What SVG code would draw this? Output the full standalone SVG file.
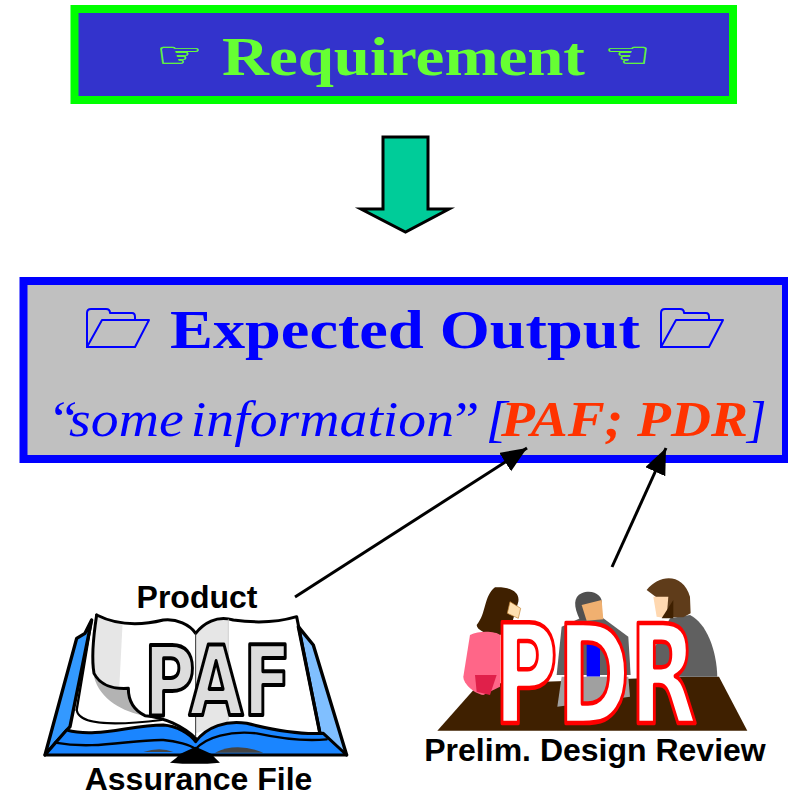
<svg xmlns="http://www.w3.org/2000/svg" width="788" height="793" viewBox="0 0 788 793">
<style>
.sf{font-family:"Liberation Serif","Times New Roman",serif}
.ss{font-family:"Liberation Sans",Arial,sans-serif;font-weight:bold;fill:#000}
.hand{font-family:"DejaVu Sans",sans-serif;fill:#66ff33;stroke:#66ff33;stroke-width:.5}
.big{font-family:"DejaVu Sans",sans-serif;font-weight:bold}
.k{stroke:#000;stroke-linejoin:round;stroke-linecap:round}
</style>
<defs>
<marker id="ah" markerUnits="userSpaceOnUse" markerWidth="28" markerHeight="24" refX="26" refY="11" orient="auto"><path d="M0 0L26 11L0 22Z" fill="#000"/></marker>
<g id="folder" fill="none" stroke="#0000ff" stroke-width="2" stroke-linejoin="round">
<path d="M1 40V5Q1 1 5 1H20Q24 1 24 5H46Q49 5 49 9V12"/>
<path d="M1 39L16 12H63L49 39Z"/>
</g>
</defs>
<rect width="788" height="793" fill="#fff"/>
<g id="requirement">
<rect x="74.5" y="9" width="658.500" height="91" fill="#3333cc" stroke="#00ff00" stroke-width="8"/>
<text transform="translate(156,67) scale(1,.68)" class="hand" font-size="52">☞</text>
<text x="222" y="75" class="sf" font-size="55" font-weight="bold" fill="#66ff33" textLength="363" lengthAdjust="spacingAndGlyphs">Requirement</text>
<text transform="translate(604,67) scale(1,.68)" class="hand" font-size="52">☜</text>
</g>
<g id="down-arrow">
<path d="M383 137H428V209H449L405.500 232L361 209H383Z" fill="#00cc99" stroke="#000" stroke-width="3" stroke-miterlimit="10"/>
</g>
<g id="expected-output">
<rect x="23.500" y="281" width="762.500" height="178" fill="#c0c0c0" stroke="#0000ff" stroke-width="8"/>
<use href="#folder" x="86" y="308"/>
<use href="#folder" x="660" y="308"/>
<text x="170" y="348" class="sf" font-size="55" font-weight="bold" fill="#0000ff" textLength="470" lengthAdjust="spacingAndGlyphs">Expected Output</text>
<text transform="translate(47,436) scale(1.115,1)" class="sf" font-size="50" font-style="italic" fill="#0000ff">“<tspan dx="-8">some</tspan><tspan dx="-6"> information</tspan><tspan dx="-5">”</tspan><tspan dx="-7"> [</tspan></text>
<text x="501" y="436" class="sf" font-size="50" font-style="italic" font-weight="bold" fill="#ff3300" textLength="247" lengthAdjust="spacingAndGlyphs">PAF; PDR</text>
<text x="747" y="436" class="sf" font-size="50" font-style="italic" fill="#0000ff">]</text>
</g>
<g id="paf">
<text x="197" y="608" text-anchor="middle" class="ss" font-size="32">Product</text>
<g transform="translate(30,570) scale(.3333)">
<path d="M200 135L800 140L880 490L400 520L110 480L140 420L185 150Z" fill="#fff"/>
<path d="M45 555L140 205L165 190L185 150L120 470L75 520Z" fill="#3399ff" class="k" stroke-width="10"/>
<path d="M950 555L850 225L805 170L870 490L890 510Z" fill="#80bfff" class="k" stroke-width="10"/>
<path d="M200 140L278 155L268 350L210 345L190 290Z" fill="#e6e6e6"/>
<path d="M497 190C520 160 560 145 595 145V460L497 490Z" fill="#e6e6e6"/>
<path d="M192 320C210 390 280 425 345 437C310 420 295 390 295 355C250 360 210 340 192 320Z" fill="#b3b3b3"/>
<path d="M140 420C145 450 190 475 395 450" fill="none" class="k" stroke-width="6"/>
<path d="M200 135C190 200 185 270 192 310C210 345 250 358 295 355C295 390 310 420 345 437C400 440 460 470 497 505" fill="none" class="k" stroke-width="9"/>
<path d="M185 150L140 420" fill="none" class="k" stroke-width="7"/>
<path d="M200 135C270 170 340 165 400 150C440 145 480 165 497 190C520 160 560 135 610 150C680 160 750 155 800 140L870 490" fill="none" class="k" stroke-width="9"/>
<path d="M497 190V500" stroke="#333" stroke-width="3"/>
<path d="M595 147V450" stroke="#bbb" stroke-width="2"/>
<path d="M45 555L110 480C200 505 300 465 400 465C440 468 480 490 497 515C530 470 590 450 650 460C730 480 810 495 880 490L950 555Z" fill="#1a85ff" class="k" stroke-width="9"/>
<path d="M75 518C200 540 300 508 400 510C440 513 480 525 497 537C530 500 600 482 680 490C750 505 820 515 890 508" fill="none" class="k" stroke-width="7"/>
<path d="M340 546Q390 530 430 546Z" fill="#444"/>
<path d="M555 548Q620 515 700 548Z" fill="#444"/>
<path d="M420 578Q440 565 450 552L497 530L545 552Q555 565 570 578Q495 585 420 578Z" fill="#000"/>
</g>
<text x="144" y="715" class="big" font-size="96" textLength="147" lengthAdjust="spacingAndGlyphs" style="fill:#ddd;stroke:#000;stroke-width:4;stroke-linejoin:round">PAF</text>
<text x="198.500" y="790" text-anchor="middle" class="ss" font-size="32">Assurance File</text>
</g>
<g id="pdr">
<g transform="translate(420,560) scale(.3333)">
<path d="M52 512L165 385L240 370L800 350H897L982 512Z" fill="#3f2000"/>
<path d="M225 82C270 80 300 95 295 125L270 210L240 225C200 225 170 210 170 195C200 160 190 110 225 82Z" fill="#3f2000"/>
<path d="M270 125L302 145L295 175L262 160Z" fill="#ffe0b0" stroke="#c08030" stroke-width="2"/>
<path d="M150 225C180 210 230 215 240 225V380L190 405C160 400 130 370 130 350Z" fill="#ff6688"/>
<path d="M165 345L230 345L210 405L170 395Z" fill="#e0204a"/>
<path d="M425 200L480 175H550L625 230L632 345H410Z" fill="#606060"/>
<path d="M485 100C520 85 550 110 545 130L535 180H480C460 140 460 110 485 100Z" fill="#505050"/>
<path d="M485 135L545 120L550 178L500 182Z" fill="#f0b070"/>
<path d="M500 250H540V350H500Z" fill="#0000ff"/>
<path d="M425 350H625L630 410L412 440Z" fill="#a0a0a0"/>
<path d="M750 175L810 165C860 190 890 270 892 350H700V270Z" fill="#606060"/>
<path d="M680 90C720 40 790 40 810 110L812 160L790 172H750L720 120Z" fill="#5f3c1a"/>
<path d="M700 110L745 110L740 175L710 170Z" fill="#ffd8b0"/>
<path d="M725 175L760 120L760 175Z" fill="#3f2000"/>
</g>
<text x="494" y="723" class="big" font-size="138" textLength="203" lengthAdjust="spacingAndGlyphs" style="fill:#fff;stroke:#ff0000;stroke-width:4.500;stroke-linejoin:round">PDR</text>
<text x="595" y="761" text-anchor="middle" class="ss" font-size="32">Prelim. Design Review</text>
</g>
<g id="connectors" fill="none" stroke="#000" stroke-width="3">
<path d="M295 597L527 448" marker-end="url(#ah)"/>
<path d="M612 567L666 448" marker-end="url(#ah)"/>
</g>
</svg>
